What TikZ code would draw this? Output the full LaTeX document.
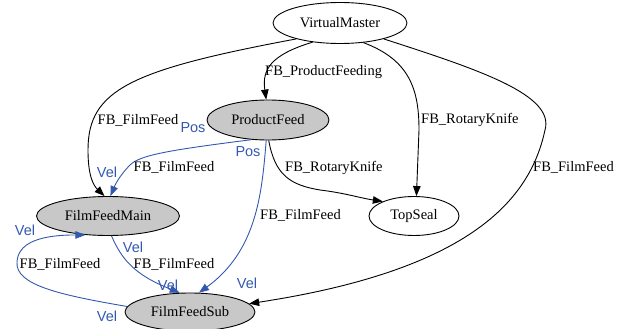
\documentclass[tikz,border=0pt]{standalone}
\usepackage{fontspec}
\setmainfont{Liberation Serif}
\newfontfamily\portfont{Liberation Sans}
\usetikzlibrary{arrows.meta,shapes.geometric}
\definecolor{portblue}{RGB}{50,88,175}
\definecolor{nodegray}{RGB}{200,200,200}
\tikzset{
  unit/.style={ellipse,draw=black,line width=0.9pt,inner sep=0pt,font=\fontsize{14.5}{16}\selectfont},
  busy/.style={unit,fill=nodegray},
  link/.style={draw=black,line width=0.9pt,-{Triangle[length=10pt,width=7.5pt]}},
  bluelink/.style={link,draw=portblue,-{Triangle[length=10pt,width=7.5pt,fill=portblue]}},
  elabel/.style={inner sep=0pt,font=\fontsize{14.5}{16}\selectfont},
  plabel/.style={inner sep=0pt,text=portblue,font=\portfont\fontsize{14.5}{16}\selectfont}
}
\begin{document}
\begin{tikzpicture}[x=1pt,y=-1pt]
\useasboundingbox (0,0) rectangle (625,329);

% nodes
\node[unit,minimum width=134pt,minimum height=41pt] (vm) at (340,23) {VirtualMaster};
\node[busy,minimum width=122pt,minimum height=40pt] (pf) at (268,120) {ProductFeed};
\node[busy,minimum width=143pt,minimum height=39pt] (ffm) at (108,216) {FilmFeedMain};
\node[unit,minimum width=90pt,minimum height=39pt] (ts) at (414,216) {TopSeal};
\node[busy,minimum width=130pt,minimum height=38pt] (ffs) at (190,312) {FilmFeedSub};

% master connections
\draw[link] (vm.-145) .. controls (270,55) and (262,70) .. (pf.95);
\draw[link] (vm.-160) .. controls (130,70) and (88,90) .. (88,150)
  .. controls (88,175) and (93,185) .. (ffm.100);
\draw[link] (vm.-40) .. controls (410,60) and (419,90) .. (419,130) -- (ts.83);
\draw[link] (vm.-20) .. controls (480,70) and (555,95) .. (545,130)
  .. controls (530,200) and (470,270) .. (ffs.8);

% product feed to top seal
\draw[link] (pf.-88) .. controls (275,175) and (290,185) .. (320,190)
  .. controls (345,193) and (360,198) .. (ts.155);

% blue position/velocity couplings
\draw[bluelink] (pf.-130) .. controls (170,150) and (140,155) .. (130,165)
  .. controls (120,175) and (115,185) .. (ffm.83);
\draw[bluelink] (pf.-95) .. controls (262,190) and (258,250) .. (ffs.65);
\draw[bluelink] (ffm.-80) .. controls (122,260) and (135,275) .. (ffs.118);
\draw[bluelink] (ffs.175) .. controls (60,295) and (15,285) .. (17,262)
  .. controls (18,245) and (35,235) .. (ffm.-140);

% edge labels
\node[elabel,anchor=west] (l1) at (265,72) {FB\_ProductFeeding};
\node[elabel] (l2) at (138,120) {FB\_FilmFeed};
\node[elabel,anchor=west] (l3) at (421,120) {FB\_RotaryKnife};
\node[elabel,anchor=west] (l4) at (533,167) {FB\_FilmFeed};
\node[elabel,anchor=west] (l5) at (285,168) {FB\_RotaryKnife};
\node[elabel] (l6) at (174,167) {FB\_FilmFeed};
\node[elabel,anchor=west] (l7) at (260,215) {FB\_FilmFeed};
\node[elabel] (l8) at (174,264) {FB\_FilmFeed};
\node[elabel] (l9) at (60,264) {FB\_FilmFeed};

% port labels
\node[plabel] (p1) at (193,128) {Pos};
\node[plabel] (p2) at (107,172) {Vel};
\node[plabel] (p3) at (248,152) {Pos};
\node[plabel] (p4) at (247,283) {Vel};
\node[plabel] (p5) at (133,247) {Vel};
\node[plabel] (p6) at (168,285) {Vel};
\node[plabel] (p7) at (25,230) {Vel};
\node[plabel] (p8) at (107,316) {Vel};
\end{tikzpicture}
\end{document}
